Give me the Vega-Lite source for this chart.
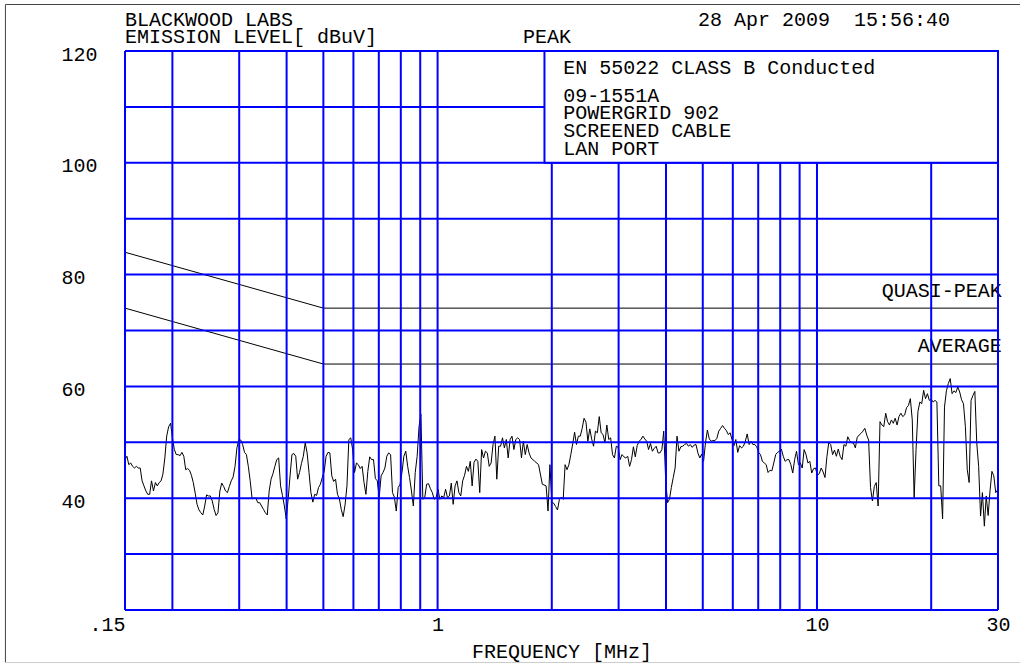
{
  "$schema": "https://vega.github.io/schema/vega-lite/v6.json",
  "width": 873,
  "height": 559,
  "autosize": {"type": "none"},
  "padding": {"left": 125, "top": 51, "right": 22, "bottom": 54},
  "background": "white",
  "config": {"view": {"stroke": null}, "font": "Liberation Mono"},
  "datasets": {
    "trace": [
      {"f":0.15,"db":46.9},{"f":0.15175,"db":47.5},{"f":0.1535,"db":46.0},{"f":0.15528,"db":46.3},{"f":0.1571,"db":45.7},{"f":0.1589,"db":45.4},{"f":0.1607,"db":45.7},{"f":0.16261,"db":45.4},{"f":0.1645,"db":45.4},{"f":0.16639,"db":43.1},
      {"f":0.1683,"db":42.2},{"f":0.17027,"db":41.3},{"f":0.1722,"db":40.7},{"f":0.17424,"db":40.7},{"f":0.1762,"db":43.1},{"f":0.1783,"db":41.3},{"f":0.1804,"db":42.8},{"f":0.18245,"db":42.2},{"f":0.1846,"db":42.8},{"f":0.1867,"db":43.1},
      {"f":0.1888,"db":44.3},{"f":0.19104,"db":47.2},{"f":0.1932,"db":51.1},{"f":0.19549,"db":52.8},{"f":0.1978,"db":53.4},{"f":0.20005,"db":50.8},{"f":0.2024,"db":48.7},{"f":0.20471,"db":47.8},{"f":0.2071,"db":47.8},{"f":0.20947,"db":47.6},
      {"f":0.2119,"db":48.2},{"f":0.21435,"db":47.5},{"f":0.2168,"db":45.1},{"f":0.21934,"db":45.3},{"f":0.2219,"db":45.0},{"f":0.22446,"db":44.1},{"f":0.227,"db":42.8},{"f":0.22968,"db":40.9},{"f":0.2323,"db":38.9},{"f":0.23503,"db":37.9},
      {"f":0.2377,"db":37.4},{"f":0.24051,"db":37.0},{"f":0.2433,"db":38.6},{"f":0.24611,"db":40.6},{"f":0.2489,"db":40.4},{"f":0.25184,"db":40.4},{"f":0.2547,"db":39.5},{"f":0.2577,"db":38.0},{"f":0.2607,"db":36.9},{"f":0.26371,"db":37.4},
      {"f":0.2668,"db":41.3},{"f":0.26986,"db":42.7},{"f":0.273,"db":42.1},{"f":0.27614,"db":41.3},{"f":0.2793,"db":41.0},{"f":0.28258,"db":42.1},{"f":0.2858,"db":43.1},{"f":0.28915,"db":43.8},{"f":0.2925,"db":45.7},{"f":0.29589,"db":49.0},
      {"f":0.2993,"db":50.5},{"f":0.30278,"db":50.4},{"f":0.3063,"db":49.6},{"f":0.30983,"db":48.2},{"f":0.3134,"db":47.8},{"f":0.31705,"db":45.7},{"f":0.3207,"db":43.1},{"f":0.32444,"db":39.9},{"f":0.3282,"db":40.0},{"f":0.33199,"db":40.0},
      {"f":0.3358,"db":39.2},{"f":0.33973,"db":39.2},{"f":0.3436,"db":38.6},{"f":0.34764,"db":38.0},{"f":0.3516,"db":37.4},{"f":0.35573,"db":37.0},{"f":0.3598,"db":41.3},{"f":0.36402,"db":43.4},{"f":0.3682,"db":44.4},{"f":0.3725,"db":45.7},
      {"f":0.3768,"db":46.9},{"f":0.38118,"db":47.2},{"f":0.3856,"db":42.2},{"f":0.39006,"db":40.5},{"f":0.3946,"db":38.6},{"f":0.39914,"db":36.3},{"f":0.4037,"db":39.8},{"f":0.40843,"db":44.0},{"f":0.4131,"db":47.8},{"f":0.41795,"db":48.0},
      {"f":0.4228,"db":47.5},{"f":0.42768,"db":43.4},{"f":0.4326,"db":44.6},{"f":0.43764,"db":46.2},{"f":0.4427,"db":47.5},{"f":0.44784,"db":49.9},{"f":0.453,"db":48.1},{"f":0.45828,"db":44.6},{"f":0.4636,"db":41.0},{"f":0.46895,"db":39.3},
      {"f":0.4744,"db":40.7},{"f":0.47987,"db":40.5},{"f":0.4854,"db":41.9},{"f":0.49105,"db":42.5},{"f":0.4967,"db":43.7},{"f":0.50248,"db":44.8},{"f":0.5083,"db":47.5},{"f":0.51419,"db":48.2},{"f":0.5201,"db":48.1},{"f":0.52617,"db":44.0},
      {"f":0.5322,"db":43.0},{"f":0.53842,"db":43.4},{"f":0.5446,"db":40.7},{"f":0.55097,"db":39.9},{"f":0.5573,"db":38.0},{"f":0.5638,"db":36.7},{"f":0.5703,"db":38.8},{"f":0.57694,"db":42.2},{"f":0.5836,"db":50.5},{"f":0.59038,"db":50.8},
      {"f":0.5972,"db":48.7},{"f":0.60412,"db":44.6},{"f":0.6111,"db":46.3},{"f":0.61819,"db":46.0},{"f":0.6253,"db":45.3},{"f":0.63259,"db":45.7},{"f":0.6399,"db":42.8},{"f":0.64733,"db":40.7},{"f":0.6548,"db":44.8},{"f":0.6624,"db":47.4},
      {"f":0.67,"db":46.9},{"f":0.67783,"db":46.9},{"f":0.6856,"db":43.5},{"f":0.69363,"db":43.1},{"f":0.7016,"db":40.1},{"f":0.70978,"db":44.0},{"f":0.718,"db":44.6},{"f":0.72631,"db":45.4},{"f":0.7347,"db":47.5},{"f":0.74323,"db":48.1},
      {"f":0.7518,"db":47.8},{"f":0.76054,"db":41.0},{"f":0.7693,"db":40.2},{"f":0.77826,"db":37.7},{"f":0.7872,"db":41.9},{"f":0.79639,"db":42.5},{"f":0.8056,"db":44.6},{"f":0.81493,"db":47.5},{"f":0.8243,"db":48.4},{"f":0.83391,"db":45.7},
      {"f":0.8435,"db":43.7},{"f":0.85334,"db":41.3},{"f":0.8632,"db":38.6},{"f":0.87321,"db":44.6},{"f":0.8833,"db":47.5},{"f":0.89355,"db":52.8},{"f":0.9038,"db":55.0},{"f":0.91437,"db":39.8},{"f":0.9249,"db":40.1},{"f":0.93567,"db":42.5},
      {"f":0.9464,"db":42.6},{"f":0.95746,"db":41.7},{"f":0.9685,"db":41.0},{"f":0.97976,"db":39.8},{"f":0.991,"db":40.1},{"f":1.0026,"db":41.6},{"f":1.0141,"db":39.8},{"f":1.0259,"db":40.4},{"f":1.0378,"db":40.1},{"f":1.0498,"db":41.6},
      {"f":1.0619,"db":40.1},{"f":1.0743,"db":40.4},{"f":1.0867,"db":42.7},{"f":1.0993,"db":38.9},{"f":1.112,"db":42.2},{"f":1.1249,"db":43.1},{"f":1.1379,"db":41.0},{"f":1.1511,"db":40.4},{"f":1.1644,"db":43.1},{"f":1.1779,"db":44.1},
      {"f":1.1915,"db":45.7},{"f":1.2054,"db":44.8},{"f":1.2193,"db":46.6},{"f":1.2334,"db":42.2},{"f":1.2476,"db":46.4},{"f":1.2622,"db":47.0},{"f":1.2767,"db":46.6},{"f":1.2916,"db":41.0},{"f":1.3064,"db":48.7},{"f":1.3217,"db":47.2},
      {"f":1.3369,"db":48.4},{"f":1.3524,"db":48.1},{"f":1.368,"db":45.7},{"f":1.3839,"db":46.3},{"f":1.3999,"db":49.6},{"f":1.4162,"db":51.1},{"f":1.4325,"db":43.4},{"f":1.4492,"db":49.3},{"f":1.4659,"db":49.3},{"f":1.4829,"db":50.8},
      {"f":1.5,"db":49.0},{"f":1.5175,"db":50.5},{"f":1.5349,"db":47.2},{"f":1.5528,"db":50.5},{"f":1.5707,"db":51.1},{"f":1.589,"db":48.7},{"f":1.6073,"db":50.5},{"f":1.6261,"db":50.8},{"f":1.6448,"db":50.5},{"f":1.6639,"db":47.2},
      {"f":1.683,"db":50.2},{"f":1.7027,"db":47.8},{"f":1.7223,"db":49.6},{"f":1.7424,"db":48.1},{"f":1.7624,"db":47.2},{"f":1.8035,"db":46.6},{"f":1.8455,"db":46.0},{"f":1.8884,"db":42.5},{"f":1.9323,"db":42.2},{"f":1.9549,"db":37.7},
      {"f":1.9775,"db":46.0},{"f":2.0005,"db":39.2},{"f":2.0235,"db":39.1},{"f":2.0471,"db":38.5},{"f":2.0706,"db":37.9},{"f":2.0947,"db":39.8},{"f":2.1188,"db":40.2},{"f":2.1435,"db":39.8},{"f":2.1681,"db":46.0},{"f":2.1934,"db":45.1},
      {"f":2.2187,"db":46.0},{"f":2.2446,"db":47.8},{"f":2.2704,"db":49.7},{"f":2.2968,"db":51.8},{"f":2.3232,"db":49.6},{"f":2.3503,"db":51.1},{"f":2.3774,"db":51.1},{"f":2.4051,"db":52.5},{"f":2.4327,"db":54.3},{"f":2.4611,"db":53.6},
      {"f":2.4894,"db":50.2},{"f":2.5184,"db":52.4},{"f":2.5473,"db":50.6},{"f":2.577,"db":49.3},{"f":2.6067,"db":52.0},{"f":2.6371,"db":51.7},{"f":2.6675,"db":54.6},{"f":2.6986,"db":51.7},{"f":2.7296,"db":51.4},{"f":2.7614,"db":49.9},
      {"f":2.7932,"db":53.1},{"f":2.8258,"db":50.5},{"f":2.8583,"db":50.8},{"f":2.8915,"db":47.8},{"f":2.9247,"db":47.2},{"f":2.9589,"db":49.3},{"f":2.993,"db":49.1},{"f":3.0278,"db":46.9},{"f":3.0626,"db":47.8},{"f":3.0983,"db":47.4},
      {"f":3.134,"db":47.2},{"f":3.1705,"db":47.5},{"f":3.207,"db":45.7},{"f":3.2444,"db":46.9},{"f":3.2817,"db":49.2},{"f":3.3199,"db":47.4},{"f":3.3581,"db":49.4},{"f":3.3973,"db":50.2},{"f":3.4364,"db":50.5},{"f":3.4764,"db":51.1},
      {"f":3.5163,"db":50.6},{"f":3.5573,"db":50.2},{"f":3.5982,"db":48.7},{"f":3.6402,"db":49.8},{"f":3.6821,"db":48.4},{"f":3.725,"db":48.9},{"f":3.7679,"db":49.3},{"f":3.8118,"db":48.1},{"f":3.8556,"db":48.1},{"f":3.9006,"db":48.7},
      {"f":3.9455,"db":52.0},{"f":3.9914,"db":43.4},{"f":4.0373,"db":39.2},{"f":4.0843,"db":39.8},{"f":4.1313,"db":41.9},{"f":4.1795,"db":43.7},{"f":4.2276,"db":45.4},{"f":4.2768,"db":51.1},{"f":4.326,"db":48.4},{"f":4.3764,"db":49.2},
      {"f":4.4268,"db":49.3},{"f":4.4784,"db":49.6},{"f":4.53,"db":49.8},{"f":4.5828,"db":49.3},{"f":4.6355,"db":49.6},{"f":4.6895,"db":49.1},{"f":4.7435,"db":49.5},{"f":4.7987,"db":49.6},{"f":4.8539,"db":48.1},{"f":4.9105,"db":47.2},
      {"f":4.967,"db":47.9},{"f":5.0248,"db":46.6},{"f":5.0826,"db":49.9},{"f":5.1419,"db":52.2},{"f":5.2011,"db":50.6},{"f":5.2617,"db":50.2},{"f":5.3222,"db":50.3},{"f":5.3842,"db":50.3},{"f":5.4462,"db":50.7},{"f":5.5097,"db":52.0},
      {"f":5.5731,"db":52.5},{"f":5.638,"db":53.0},{"f":5.7029,"db":52.5},{"f":5.7694,"db":52.1},{"f":5.8358,"db":51.4},{"f":5.9038,"db":51.7},{"f":5.9717,"db":50.5},{"f":6.0412,"db":49.4},{"f":6.1107,"db":50.5},{"f":6.1819,"db":48.2},
      {"f":6.2531,"db":49.4},{"f":6.3259,"db":49.0},{"f":6.3987,"db":49.3},{"f":6.4733,"db":50.2},{"f":6.5478,"db":51.5},{"f":6.624,"db":49.6},{"f":6.7002,"db":50.2},{"f":6.7783,"db":49.6},{"f":6.8564,"db":49.6},{"f":6.9363,"db":49.2},
      {"f":7.0161,"db":48.2},{"f":7.0978,"db":47.8},{"f":7.1795,"db":46.6},{"f":7.2631,"db":46.3},{"f":7.3467,"db":46.0},{"f":7.4323,"db":44.6},{"f":7.5179,"db":45.0},{"f":7.6054,"db":44.9},{"f":7.6929,"db":46.3},{"f":7.7826,"db":47.8},
      {"f":7.8722,"db":48.2},{"f":7.9639,"db":48.4},{"f":8.0555,"db":48.8},{"f":8.1493,"db":47.5},{"f":8.2431,"db":46.6},{"f":8.3391,"db":46.9},{"f":8.4351,"db":46.9},{"f":8.5334,"db":46.0},{"f":8.6316,"db":44.5},{"f":8.7321,"db":46.9},
      {"f":8.8326,"db":48.4},{"f":8.9355,"db":46.0},{"f":9.0384,"db":46.3},{"f":9.1437,"db":45.4},{"f":9.249,"db":48.7},{"f":9.3567,"db":47.8},{"f":9.4644,"db":46.3},{"f":9.5746,"db":46.6},{"f":9.6848,"db":44.5},{"f":9.7976,"db":45.3},
      {"f":9.9104,"db":45.4},{"f":10.026,"db":44.1},{"f":10.141,"db":44.4},{"f":10.259,"db":45.4},{"f":10.378,"db":44.7},{"f":10.498,"db":43.7},{"f":10.619,"db":47.4},{"f":10.743,"db":50.0},{"f":10.867,"db":49.6},{"f":10.993,"db":47.8},
      {"f":11.12,"db":48.6},{"f":11.249,"db":47.5},{"f":11.379,"db":48.8},{"f":11.511,"db":47.5},{"f":11.644,"db":46.9},{"f":11.779,"db":49.6},{"f":11.915,"db":49.3},{"f":12.054,"db":51.0},{"f":12.193,"db":50.3},{"f":12.334,"db":49.9},
      {"f":12.476,"db":49.9},{"f":12.622,"db":49.0},{"f":12.767,"db":50.9},{"f":12.916,"db":51.3},{"f":13.064,"db":51.6},{"f":13.217,"db":52.0},{"f":13.369,"db":52.5},{"f":13.524,"db":51.3},{"f":13.68,"db":50.4},{"f":13.839,"db":41.9},
      {"f":13.999,"db":39.5},{"f":14.162,"db":42.1},{"f":14.325,"db":42.8},{"f":14.492,"db":38.6},{"f":14.659,"db":53.7},{"f":14.829,"db":53.1},{"f":15.0,"db":52.8},{"f":15.175,"db":55.2},{"f":15.349,"db":53.7},{"f":15.528,"db":53.1},
      {"f":15.707,"db":54.0},{"f":15.89,"db":53.4},{"f":16.073,"db":54.3},{"f":16.261,"db":53.1},{"f":16.448,"db":54.6},{"f":16.639,"db":55.2},{"f":16.83,"db":54.6},{"f":17.027,"db":54.9},{"f":17.223,"db":56.2},{"f":17.424,"db":56.6},
      {"f":17.624,"db":57.8},{"f":17.83,"db":54.0},{"f":18.035,"db":40.1},{"f":18.245,"db":48.7},{"f":18.455,"db":55.5},{"f":18.67,"db":57.2},{"f":18.884,"db":56.9},{"f":19.104,"db":59.3},{"f":19.323,"db":57.8},{"f":19.549,"db":58.7},
      {"f":19.775,"db":57.5},{"f":20.005,"db":57.7},{"f":20.235,"db":57.2},{"f":20.471,"db":57.5},{"f":20.706,"db":57.2},{"f":20.947,"db":42.2},{"f":21.188,"db":42.2},{"f":21.435,"db":36.3},{"f":21.681,"db":56.3},{"f":21.934,"db":59.2},
      {"f":22.187,"db":60.5},{"f":22.446,"db":61.4},{"f":22.704,"db":58.7},{"f":22.968,"db":59.2},{"f":23.232,"db":58.9},{"f":23.503,"db":59.9},{"f":23.774,"db":59.0},{"f":24.051,"db":57.6},{"f":24.327,"db":56.9},{"f":24.611,"db":52.8},
      {"f":24.894,"db":45.1},{"f":25.184,"db":42.8},{"f":25.473,"db":57.5},{"f":25.77,"db":58.4},{"f":26.067,"db":59.1},{"f":26.371,"db":49.9},{"f":26.675,"db":45.7},{"f":26.986,"db":36.8},{"f":27.296,"db":41.0},{"f":27.614,"db":35.0},
      {"f":27.932,"db":40.4},{"f":28.258,"db":36.9},{"f":28.583,"db":41.3},{"f":28.915,"db":44.8},{"f":29.247,"db":44.0},{"f":29.589,"db":41.0},{"f":29.93,"db":41.5},{"f":30.0,"db":44.0}
    ],
    "limits": [
      {"k":"QP","f":0.15,"db":84},{"k":"QP","f":0.5,"db":74},{"k":"QP","f":30,"db":74},
      {"k":"AV","f":0.15,"db":74},{"k":"AV","f":0.5,"db":64},{"k":"AV","f":30,"db":64}
    ],
    "vgrid": [
      {"f":0.15},{"f":0.2},{"f":0.3},{"f":0.4},{"f":0.5},{"f":0.6},{"f":0.7},{"f":0.8},{"f":0.9},{"f":1},
      {"f":2},{"f":3},{"f":4},{"f":5},{"f":6},{"f":7},{"f":8},{"f":9},{"f":10},{"f":20},{"f":30}
    ],
    "hgrid": [
      {"db":20},{"db":30},{"db":40},{"db":50},{"db":60},{"db":70},{"db":80},{"db":90},{"db":100},{"db":110},{"db":120}
    ],
    "leftText": [
      {"text":"BLACKWOOD LABS","f":0.15,"db":124.47},
      {"text":"EMISSION LEVEL[ dBuV]","f":0.15,"db":121.38},
      {"text":"EN 55022 CLASS B Conducted","f":2.1445,"db":115.9},
      {"text":"09-1551A","f":2.1445,"db":110.9},
      {"text":"POWERGRID 902","f":2.1445,"db":107.8},
      {"text":"SCREENED CABLE","f":2.1445,"db":104.7},
      {"text":"LAN PORT","f":2.1445,"db":101.4}
    ],
    "centerText": [
      {"text":"PEAK","f":1.9424,"db":121.38},
      {"text":"28 Apr 2009\u00a0 15:56:40","f":10.43,"db":124.47}
    ],
    "limitText": [
      {"text":"QUASI-PEAK","f":30.7,"db":75.94},
      {"text":"AVERAGE","f":30.7,"db":66.1}
    ]
  },
  "layer": [
    {
      "data": {"name": "trace"},
      "mark": {"type": "line", "color": "#000000", "strokeWidth": 1, "interpolate": "linear"},
      "encoding": {
        "x": {
          "field": "f", "type": "quantitative",
          "scale": {"type": "log", "domain": [0.15, 30], "nice": false},
          "axis": {
            "values": [0.15, 1, 10, 30],
            "labelExpr": "datum.value == 0.15 ? '.15' : format(datum.value, 'd')",
            "grid": false, "ticks": false, "domain": false,
            "labelFont": "Liberation Mono", "labelFontSize": 20, "labelColor": "#000000",
            "labelPadding": 4, "labelFlush": false, "labelOverlap": false,
            "labelAlign": {"condition": {"test": "datum.value <= 0.15", "value": "right"}, "value": "center"},
            "title": "FREQUENCY [MHz]",
            "titleFont": "Liberation Mono", "titleFontSize": 20, "titleFontWeight": "normal",
            "titleColor": "#000000", "titlePadding": 7
          }
        },
        "y": {
          "field": "db", "type": "quantitative",
          "scale": {"domain": [20, 120], "nice": false, "zero": false},
          "axis": {
            "values": [40, 60, 80, 100, 120],
            "grid": false, "ticks": false, "domain": false,
            "labelFont": "Liberation Mono", "labelFontSize": 20, "labelColor": "#000000",
            "labelAlign": "left", "labelPadding": 64, "labelBaseline": "middle", "labelOffset": 3,
            "title": null
          }
        }
      }
    },
    {
      "data": {"name": "limits"},
      "mark": {"type": "line", "color": "#000000", "strokeWidth": 1},
      "encoding": {
        "x": {"field": "f", "type": "quantitative"},
        "y": {"field": "db", "type": "quantitative"},
        "detail": {"field": "k", "type": "nominal"}
      }
    },
    {
      "data": {"name": "limitText"},
      "mark": {"type": "text", "align": "right", "baseline": "alphabetic", "font": "Liberation Mono", "fontSize": 20, "color": "#000000"},
      "encoding": {
        "x": {"field": "f", "type": "quantitative"},
        "y": {"field": "db", "type": "quantitative"},
        "text": {"field": "text"}
      }
    },
    {
      "data": {"name": "vgrid"},
      "mark": {"type": "rule", "color": "#0000ff", "strokeWidth": 2},
      "encoding": {
        "x": {"field": "f", "type": "quantitative"},
        "y": {"datum": 20},
        "y2": {"datum": 120}
      }
    },
    {
      "data": {"name": "hgrid"},
      "mark": {"type": "rule", "color": "#0000ff", "strokeWidth": 2},
      "encoding": {
        "y": {"field": "db", "type": "quantitative"},
        "x": {"datum": 0.15},
        "x2": {"datum": 30}
      }
    },
    {
      "data": {"values": [{"f1": 1.913, "f2": 30, "d1": 100, "d2": 120}]},
      "mark": {"type": "rect", "fill": "#ffffff", "stroke": "#0000ff", "strokeWidth": 2},
      "encoding": {
        "x": {"field": "f1", "type": "quantitative"},
        "x2": {"field": "f2"},
        "y": {"field": "d1", "type": "quantitative"},
        "y2": {"field": "d2"}
      }
    },
    {
      "data": {"name": "leftText"},
      "mark": {"type": "text", "align": "left", "baseline": "alphabetic", "font": "Liberation Mono", "fontSize": 20, "color": "#000000"},
      "encoding": {
        "x": {"field": "f", "type": "quantitative"},
        "y": {"field": "db", "type": "quantitative"},
        "text": {"field": "text"}
      }
    },
    {
      "data": {"name": "centerText"},
      "mark": {"type": "text", "align": "center", "baseline": "alphabetic", "font": "Liberation Mono", "fontSize": 20, "color": "#000000"},
      "encoding": {
        "x": {"field": "f", "type": "quantitative"},
        "y": {"field": "db", "type": "quantitative"},
        "text": {"field": "text"}
      }
    },
    {
      "data": {"values": [
        {"x1": 0.0726, "x2": 34.3, "y1": 128.32, "y2": 128.32, "c": "top"},
        {"x1": 0.0726, "x2": 0.0726, "y1": 10.61, "y2": 128.32, "c": "left"}
      ]},
      "mark": {"type": "rule", "color": "#444444", "strokeWidth": 1},
      "encoding": {
        "x": {"field": "x1", "type": "quantitative"},
        "x2": {"field": "x2"},
        "y": {"field": "y1", "type": "quantitative"},
        "y2": {"field": "y2"}
      }
    },
    {
      "data": {"values": [{"x1": 0.0726, "x2": 34.3, "y1": 10.61}]},
      "mark": {"type": "rule", "color": "#cccccc", "strokeWidth": 1},
      "encoding": {
        "x": {"field": "x1", "type": "quantitative"},
        "x2": {"field": "x2"},
        "y": {"field": "y1", "type": "quantitative"}
      }
    }
  ]
}
